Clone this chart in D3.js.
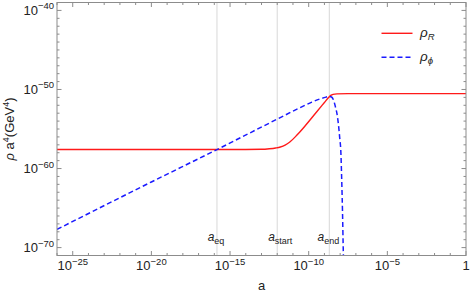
<!DOCTYPE html>
<html><head><meta charset="utf-8">
<script src="https://cdn.jsdelivr.net/npm/d3@7"></script>
<style>body{margin:0;background:#fff}svg{display:block}text{font-family:"Liberation Sans",Arial,sans-serif;fill:#222}</style>
</head><body><svg id="c" width="470" height="295"></svg>
<script>
// ---- data (log10 values) ----
const rhoR_logA = [-26, -14, -13, -12.5, -12.1, -11.8, -11.5, -11.2, -10.76, -10.55, -9.5, -9.0, -8.75, -8.6, -8.45, -8.2, -7.5, -6.5, -5, 0];
const rhoR_logV = [-57.59, -57.59, -57.57, -57.5, -57.4, -57.28, -57.05, -56.65, -55.8, -55.35, -52.85, -51.65, -51.05, -50.75, -50.62, -50.56, -50.53, -50.52, -50.52, -50.52];
const rhoPhi_logA = [-26, -20, -15.83, -12, -10.55, -9.8, -9.28, -8.9, -8.7, -8.55, -8.43, -8.3, -8.2, -8.1, -8.02, -7.96, -7.9, -7.85, -7.8, -7.76];
const rhoPhi_logV = [-67.7, -61.7, -57.6, -53.75, -52.3, -51.6, -51.2, -50.97, -50.87, -50.95, -51.3, -52.2, -53.1, -54.6, -56.3, -57.7, -61.5, -65.5, -70.5, -73];
const xMajorExp = [-25, -20, -15, -10, -5, 0];
const yMajorExp = [-70, -60, -50, -40];
const markerNames = ["eq", "start", "end"];
const markerLogA = [-15.83, -12.0, -8.69];
const legendNames = ["R", "ϕ"];

// ---- layout ----
const svg = d3.select("#c");
const L = 57, R = 466, T = 2.5, B = 255.5;
const x = d3.scaleLog().domain([1e-26, 1]).range([L, R]);
const y = d3.scaleLog().domain([1e-71, 1e-39]).range([B, T]);
const frameCol = "#8c8c8c";

svg.append("defs").append("clipPath").attr("id", "clip")
  .append("rect").attr("x", L).attr("y", T).attr("width", R - L).attr("height", B - T);

// gridlines at a_eq, a_start, a_end
svg.append("g").selectAll("line").data(markerLogA).join("line")
  .attr("x1", d => x(Math.pow(10, d))).attr("x2", d => x(Math.pow(10, d)))
  .attr("y1", T).attr("y2", B).attr("stroke", "#d8d8d8").attr("stroke-width", 1);

// curves
const line = d3.line().curve(d3.curveMonotoneX).x(d => x(d[0])).y(d => y(d[1]));
const redPts = rhoR_logA.map((a, i) => [Math.pow(10, a), Math.pow(10, rhoR_logV[i])]);
const bluePts = rhoPhi_logA.map((a, i) => [Math.pow(10, a), Math.pow(10, rhoPhi_logV[i])]);
const g = svg.append("g").attr("clip-path", "url(#clip)");
g.append("path").attr("d", line(redPts)).attr("fill", "none").attr("stroke", "#ff1a1a").attr("stroke-width", 1.4);
g.append("path").attr("d", line(bluePts)).attr("fill", "none").attr("stroke", "#1a1aff").attr("stroke-width", 1.5).attr("stroke-dasharray", "5,3");

// frame
svg.append("rect").attr("x", L).attr("y", T).attr("width", R - L).attr("height", B - T)
  .attr("fill", "none").attr("stroke", frameCol).attr("stroke-width", 1);

// ticks
function drawTicks(scale, exps, isX) {
  const minor = [];
  const dom = scale.domain().map(Math.log10);
  for (let e = Math.ceil(dom[0]); e <= Math.floor(dom[1]); e++) minor.push(e);
  const tg = svg.append("g").attr("stroke", frameCol).attr("stroke-width", 1);
  minor.forEach(e => {
    const major = exps.includes(e);
    const len = major ? 4.5 : 2.5;
    const p = scale(Math.pow(10, e));
    if (isX) {
      tg.append("line").attr("x1", p).attr("x2", p).attr("y1", B).attr("y2", B - len);
      tg.append("line").attr("x1", p).attr("x2", p).attr("y1", T).attr("y2", T + len);
    } else {
      tg.append("line").attr("y1", p).attr("y2", p).attr("x1", L).attr("x2", L + len);
      tg.append("line").attr("y1", p).attr("y2", p).attr("x1", R).attr("x2", R - len);
    }
  });
}
drawTicks(x, xMajorExp, true);
drawTicks(y, yMajorExp, false);

// x tick labels
xMajorExp.forEach(e => {
  const t = svg.append("text").attr("x", x(Math.pow(10, e))).attr("y", 270)
    .attr("text-anchor", "middle").attr("font-size", 13);
  if (e === 0) { t.text("1"); return; }
  t.append("tspan").text("10");
  t.append("tspan").attr("dy", -5.5).attr("font-size", 9.5).text("−" + Math.abs(e));
});
// y tick labels
yMajorExp.forEach(e => {
  const t = svg.append("text").attr("x", 54).attr("y", y(Math.pow(10, e)) + 4.5)
    .attr("text-anchor", "end").attr("font-size", 13);
  t.append("tspan").text("10");
  t.append("tspan").attr("dy", -5.5).attr("font-size", 9.5).text("−" + Math.abs(e));
});

// axis labels
svg.append("text").attr("x", (L + R) / 2).attr("y", 290).attr("text-anchor", "middle")
  .attr("font-size", 13).text("a");
const yl = svg.append("text").attr("transform", `translate(14,${(T + B) / 2}) rotate(-90)`)
  .attr("text-anchor", "middle").attr("font-size", 13);
yl.append("tspan").attr("font-style", "italic").text("ρ");
yl.append("tspan").text(" a");
yl.append("tspan").attr("dy", -5).attr("font-size", 9).text("4");
yl.append("tspan").attr("dy", 5).text("(GeV");
yl.append("tspan").attr("dy", -5).attr("font-size", 9).text("4");
yl.append("tspan").attr("dy", 5).text(")");

// marker labels
markerNames.forEach((n, i) => {
  const t = svg.append("text").attr("x", x(Math.pow(10, markerLogA[i])) + (i === 1 ? 3 : -1)).attr("y", 240.5)
    .attr("text-anchor", "middle").attr("font-size", 12);
  t.append("tspan").attr("font-style", "italic").text("a");
  t.append("tspan").attr("dy", 3).attr("font-size", 9).text(n);
});

// legend
const legCols = ["#ff1a1a", "#1a1aff"];
legendNames.forEach((n, i) => {
  const ly = 33.3 + i * 24;
  svg.append("line").attr("x1", 381.5).attr("x2", 412.5).attr("y1", ly).attr("y2", ly)
    .attr("stroke", legCols[i]).attr("stroke-width", i ? 1.5 : 1.4)
    .attr("stroke-dasharray", i ? "5,3" : null);
  const t = svg.append("text").attr("x", 420).attr("y", ly + 3.5).attr("font-size", 13.5);
  t.append("tspan").attr("font-style", "italic").text("ρ");
  t.append("tspan").attr("dy", 3).attr("font-size", 9.5).attr("font-style", "italic").text(n);
});
</script></body></html>
